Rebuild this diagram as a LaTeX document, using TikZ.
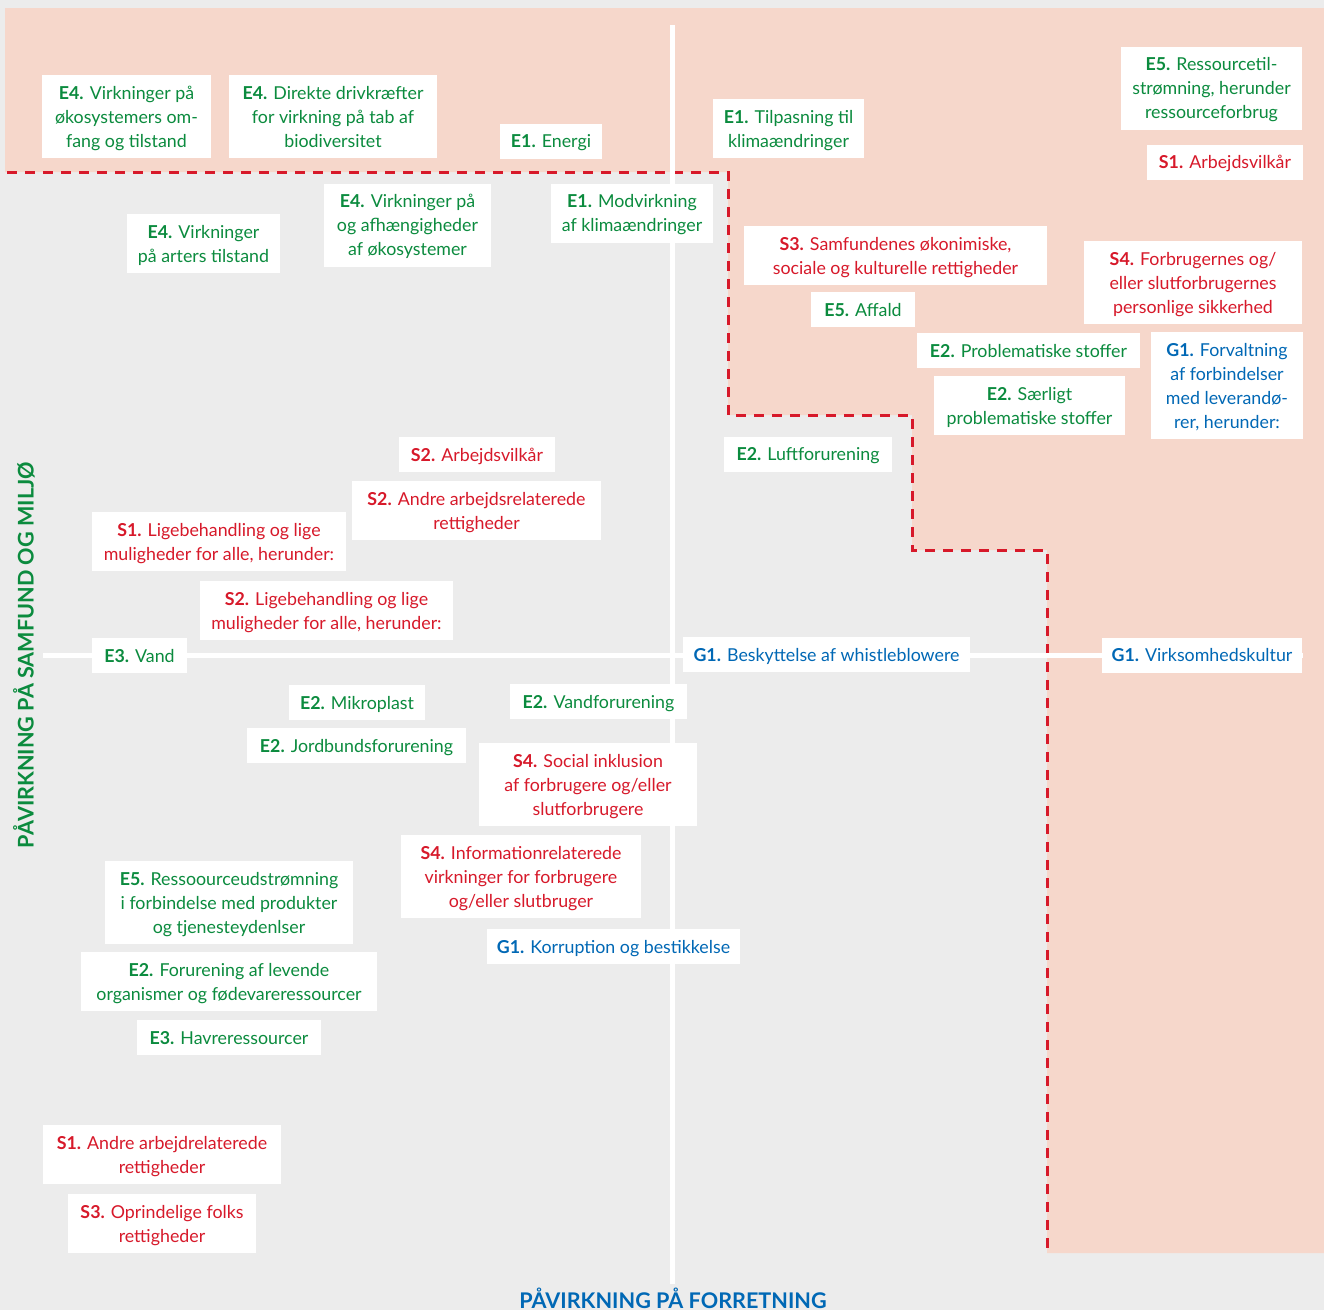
\documentclass[tikz,border=0pt]{standalone}
\usepackage{fontspec}
\setmainfont{Lato}
\definecolor{bggray}{HTML}{ECECEC}
\definecolor{pinkbg}{HTML}{F6D7CB}
\definecolor{tgreen}{HTML}{0B8B3E}
\definecolor{tred}{HTML}{D7192A}
\definecolor{tblue}{HTML}{0068B5}
\tikzset{
  box/.style={fill=white, inner sep=0pt, align=center, font=\fontsize{17.8}{24}\selectfont, text depth=6pt},
  gbox/.style={box, text=tgreen},
  rbox/.style={box, text=tred},
  bbox/.style={box, text=tblue},
  l1/.style={minimum height=35, text height=19pt},
  l2/.style={minimum height=59, text height=43pt},
  l3/.style={minimum height=83, text height=67pt},
  l4/.style={minimum height=107, text height=91pt},
  bound/.style={draw=tred, line width=3pt, dash pattern=on 10pt off 8pt},
  axis/.style={draw=white, line width=5pt},
  axlabel/.style={inner sep=0pt, font=\fontsize{21.6}{22}\selectfont\bfseries},
}
\begin{document}
\begin{tikzpicture}[x=1pt, y=-1pt]
\useasboundingbox (0,0) rectangle (1324,1310);
\fill[bggray] (0,0) rectangle (1324,1310);
\fill[pinkbg] (5,8) -- (1324,8) -- (1324,1253) -- (1047,1253) -- (1047,550) -- (912,550) -- (912,415) -- (728,415) -- (728,172) -- (5,172) -- cycle;
\draw[bound] (7,172) -- (728,172) -- (728,415) -- (912,415) -- (912,550) -- (1047,550) -- (1047,1253);
% axes
\coordinate (vtop) at (672.5,25);
\coordinate (vbot) at (672.5,1284);
\coordinate (hleft) at (43,655);
\coordinate (hright) at (1303,655);
\draw[axis] (vtop) -- (vbot);
\draw[axis] (hleft) -- (hright);
% boxes
\node[gbox,l3,minimum width=169] (n1) at (126.5,116.5) {\textbf{E4.} Virkninger på\\økosystemers om-\\fang og tilstand};
\node[gbox,l3,minimum width=208] (n2) at (333,116.5) {\textbf{E4.} Direkte drivkræfter\\for virkning på tab af\\biodiversitet};
\node[gbox,l1,minimum width=102] (n3) at (551,141) {\textbf{E1.} Energi};
\node[gbox,l2,minimum width=151] (n4) at (788.5,128.5) {\textbf{E1.} Tilpasning til\\klimaændringer};
\node[gbox,l3,minimum width=181] (n5) at (1211.5,88) {\textbf{E5.} Ressourcetil-\\strømning, herunder\\ressourceforbrug};
\node[rbox,l1,minimum width=156] (n6) at (1225,162) {\textbf{S1.} Arbejdsvilkår};
\node[gbox,l2,minimum width=153] (n7) at (203.5,243.5) {\textbf{E4.} Virkninger\\på arters tilstand};
\node[gbox,l3,minimum width=167] (n8) at (407.5,225) {\textbf{E4.} Virkninger på\\og afhængigheder\\af økosystemer};
\node[gbox,l2,minimum width=162] (n9) at (632,213) {\textbf{E1.} Modvirkning\\af klimaændringer};
\node[rbox,l2,minimum width=303] (n10) at (895.5,255.5) {\textbf{S3.} Samfundenes økonimiske,\\sociale og kulturelle rettigheder};
\node[rbox,l3,minimum width=218] (n11) at (1193,282.5) {\textbf{S4.} Forbrugernes og/\\eller slutforbrugernes\\personlige sikkerhed};
\node[gbox,l1,minimum width=104] (n12) at (863,309.5) {\textbf{E5.} Affald};
\node[gbox,l1,minimum width=223] (n13) at (1028.5,350.5) {\textbf{E2.} Problematiske stoffer};
\node[bbox,l4,minimum width=152] (n14) at (1227,385.5) {\textbf{G1.} Forvaltning\\af forbindelser\\med leverandø-\\rer, herunder:};
\node[gbox,l2,minimum width=191] (n15) at (1029.5,405.5) {\textbf{E2.} Særligt\\problematiske stoffer};
\node[gbox,l1,minimum width=168] (n16) at (808,454) {\textbf{E2.} Luftforurening};
\node[rbox,l1,minimum width=156] (n17) at (477,454.5) {\textbf{S2.} Arbejdsvilkår};
\node[rbox,l2,minimum width=249] (n18) at (476.5,510.5) {\textbf{S2.} Andre arbejdsrelaterede\\rettigheder};
\node[rbox,l2,minimum width=254] (n19) at (219,541.5) {\textbf{S1.} Ligebehandling og lige\\muligheder for alle, herunder:};
\node[rbox,l2,minimum width=253] (n20) at (326.5,610.5) {\textbf{S2.} Ligebehandling og lige\\muligheder for alle, herunder:};
\node[gbox,l1,minimum width=95] (n21) at (139.5,655.5) {\textbf{E3.} Vand};
\node[bbox,l1,minimum width=287] (n22) at (826.5,654.5) {\textbf{G1.} Beskyttelse af whistleblowere};
\node[bbox,l1,minimum width=200] (n23) at (1202,655) {\textbf{G1.} Virksomhedskultur};
\node[gbox,l1,minimum width=136] (n24) at (357,702.5) {\textbf{E2.} Mikroplast};
\node[gbox,l1,minimum width=177] (n25) at (598.5,701.5) {\textbf{E2.} Vandforurening};
\node[gbox,l1,minimum width=219] (n26) at (356.5,745.5) {\textbf{E2.} Jordbundsforurening};
\node[rbox,l3,minimum width=218] (n27) at (588,784.5) {\textbf{S4.} Social inklusion\\af forbrugere og/eller\\slutforbrugere};
\node[rbox,l3,minimum width=240] (n28) at (521,876.5) {\textbf{S4.} Informationrelaterede\\virkninger for forbrugere\\og/eller slutbruger};
\node[gbox,l3,minimum width=248] (n29) at (229,902.5) {\textbf{E5.} Ressoourceudstrømning\\i forbindelse med produkter\\og tjenesteydenlser};
\node[bbox,l1,minimum width=253] (n30) at (613.5,946.5) {\textbf{G1.} Korruption og bestikkelse};
\node[gbox,l2,minimum width=296] (n31) at (229,981.5) {\textbf{E2.} Forurening af levende\\organismer og fødevareressourcer};
\node[gbox,l1,minimum width=184] (n32) at (229,1037.5) {\textbf{E3.} Havreressourcer};
\node[rbox,l2,minimum width=238] (n33) at (162,1154.5) {\textbf{S1.} Andre arbejdrelaterede\\rettigheder};
\node[rbox,l2,minimum width=188] (n34) at (162,1223.5) {\textbf{S3.} Oprindelige folks\\rettigheder};
% axis labels
\node[axlabel, text=tgreen, rotate=90] (ylab) at (24,655) {PÅVIRKNING PÅ SAMFUND OG MILJØ};
\node[axlabel, text=tblue, anchor=base] (xlab) at (673,1308) {PÅVIRKNING PÅ FORRETNING};
\end{tikzpicture}
\end{document}
